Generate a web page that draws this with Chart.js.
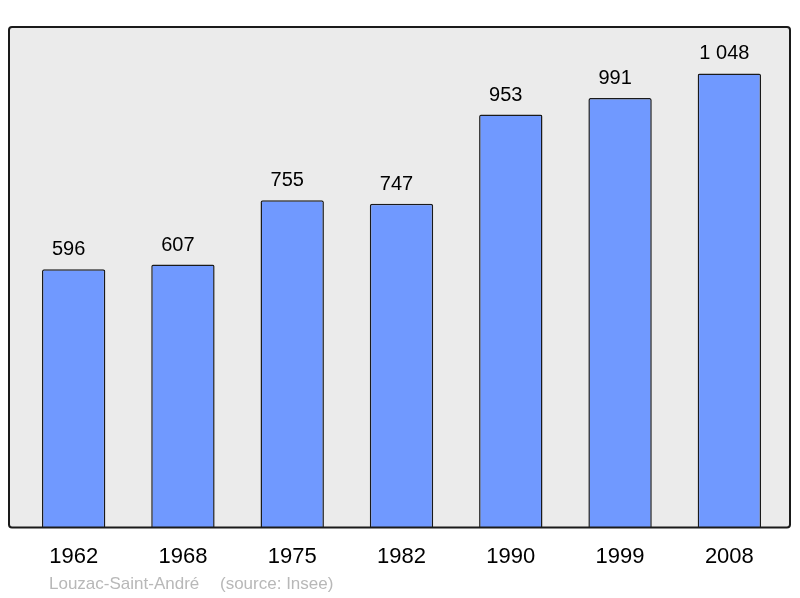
<!DOCTYPE html>
<html><head><meta charset="utf-8">
<script src="https://cdn.jsdelivr.net/npm/chart.js@4/dist/chart.umd.min.js"></script>
<style>html,body{margin:0;padding:0;background:#fff}canvas{display:block}</style>
</head><body>
<canvas id="c" width="800" height="598"></canvas>
<script>
const years = ["1962","1968","1975","1982","1990","1999","2008"];
const population = [596, 607, 755, 747, 953, 991, 1048];
const valueLabels = ["596","607","755","747","953","991","1 048"];
const footerPlace = "Louzac-Saint-André";
const footerSource = "(source: Insee)";

const framePlugin = {
  id: 'frame',
  beforeDatasetsDraw(chart) {
    const a = chart.chartArea, ctx = chart.ctx;
    ctx.save();
    ctx.beginPath();
    ctx.roundRect(a.left - 10, a.top, (a.right + 6) - (a.left - 10), a.bottom - a.top, 3);
    ctx.fillStyle = '#ebebeb';
    ctx.fill();
    ctx.restore();
  },
  afterDatasetsDraw(chart) {
    const a = chart.chartArea, ctx = chart.ctx;
    ctx.save();
    ctx.beginPath();
    ctx.roundRect(a.left - 10, a.top, (a.right + 6) - (a.left - 10), a.bottom - a.top, 3);
    ctx.lineWidth = 2;
    ctx.strokeStyle = '#1a1a1a';
    ctx.stroke();
    // value labels
    const meta = chart.getDatasetMeta(0);
    ctx.fillStyle = '#000';
    ctx.font = '20px "Liberation Sans", Arial, sans-serif';
    ctx.textAlign = 'center';
    ctx.textBaseline = 'alphabetic';
    meta.data.forEach((bar, i) => {
      ctx.fillText(valueLabels[i], bar.x - 5, bar.y - 14);
    });
    // footer
    ctx.fillStyle = '#b8b8b8';
    ctx.font = '17px "Liberation Sans", Arial, sans-serif';
    ctx.textAlign = 'left';
    ctx.textBaseline = 'middle';
    ctx.fillText(footerPlace, a.left + 30, 584);
    ctx.fillText(footerSource, a.left + 201, 584);
    ctx.restore();
  }
};

new Chart(document.getElementById('c'), {
  type: 'bar',
  data: {
    labels: years,
    datasets: [{
      data: population,
      backgroundColor: '#7099ff',
      borderColor: '#1a1a1a',
      borderWidth: 1.5,
      borderRadius: 2,
      borderSkipped: 'bottom',
      barPercentage: 0.58,
      categoryPercentage: 1
    }]
  },
  options: {
    responsive: false,
    animation: false,
    devicePixelRatio: 1,
    layout: { padding: { left: 19, right: 16, top: 27, bottom: 12 } },
    plugins: { legend: { display: false }, tooltip: { enabled: false } },
    scales: {
      x: {
        grid: { display: false, drawTicks: false },
        border: { display: false },
        ticks: { color: '#000', font: { size: 22, family: '"Liberation Sans", Arial, sans-serif' }, padding: 16, maxRotation: 0 }
      },
      y: { display: false, min: 0, max: 1155 }
    }
  },
  plugins: [framePlugin]
});
</script>
</body></html>
